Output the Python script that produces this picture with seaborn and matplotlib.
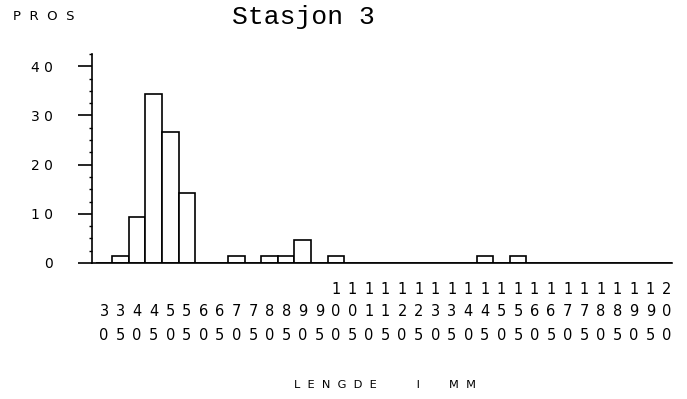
import matplotlib
matplotlib.use("Agg")
import matplotlib.pyplot as plt
import matplotlib.transforms as mtransforms
from matplotlib.ticker import MultipleLocator
import seaborn as sns
import pandas as pd

# ---- data ----
lengths = list(range(30, 205, 5))
percent = [0, 1.5, 9.4, 34.4, 26.7, 14.2, 0, 0, 1.5, 0,
           1.5, 1.5, 4.6, 0, 1.5, 0, 0, 0, 0, 0,
           0, 0, 0, 1.5, 0, 1.5, 0, 0, 0, 0,
           0, 0, 0, 0, 0]
y_ticks = [0, 10, 20, 30, 40]
title = "Stasjon 3"
y_title = "P  R  O  S"
x_title = "L  E  N  G  D  E           I        M  M"

sns.set_theme(style="white")
plt.rcParams['font.family'] = ['DejaVu Sans']

W, H = 687, 399
fig = plt.figure(figsize=(W / 100, H / 100), dpi=100)
fig.patch.set_facecolor("white")
ax = fig.add_axes([92 / W, 1 - 263 / H, (672 - 92) / W, (263 - 54) / H])

df = pd.DataFrame({"lengde": [str(c) for c in lengths], "pros": percent})
sns.barplot(data=df, x="lengde", y="pros", order=list(df["lengde"]), width=1.0,
            color="white", saturation=1, edgecolor="black", linewidth=1.2,
            errorbar=None, ax=ax)

ax.set_xlim(-0.725, 34.3)
ax.set_ylim(0, 42.5)
ax.set_xlabel("")
ax.set_ylabel("")
for s in ["top", "right"]:
    ax.spines[s].set_visible(False)
for s in ["left", "bottom"]:
    ax.spines[s].set_color("black")
    ax.spines[s].set_linewidth(1.2)

ax.set_yticks(y_ticks, labels=[" ".join(str(t)) for t in y_ticks])
ax.yaxis.set_minor_locator(MultipleLocator(2.5))
ax.tick_params(axis="y", which="major", left=True, length=10, width=1.2,
               direction="out", pad=18, labelsize=10, colors="black")
ax.tick_params(axis="y", which="minor", left=True, length=2.5, width=1.0,
               direction="out", colors="black")
ax.tick_params(axis="x", length=0, labelbottom=False)

# stacked digit tick labels
trans = mtransforms.blended_transform_factory(ax.transData, fig.transFigure)
row_y = [289, 312, 335]
for i, c in enumerate(lengths):
    s = str(c).rjust(3)
    for r, ch in enumerate(s):
        if ch != " ":
            ax.text(i, 1 - row_y[r] / H, ch, transform=trans, ha="center",
                    va="center", fontsize=10.5, color="black")

fig.text(303 / W, 1 - 24 / H, title, family=["Liberation Mono", "DejaVu Sans Mono"],
         fontsize=19, ha="center", va="baseline", color="black")
fig.text(13 / W, 1 - 16 / H, y_title, fontsize=9.5, ha="left", va="center", color="black")
fig.text(385 / W, 1 - 385 / H, x_title, fontsize=8.2, ha="center", va="center", color="black")

fig.savefig("out.png", dpi=100, facecolor="white")
